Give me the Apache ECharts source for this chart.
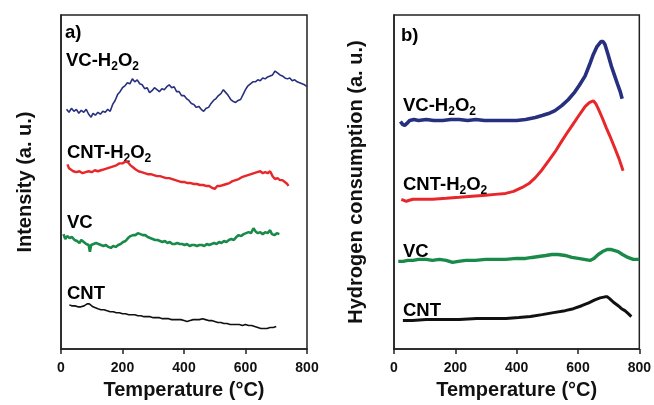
<!DOCTYPE html>
<html>
<head>
<meta charset="utf-8">
<script src="https://cdn.jsdelivr.net/npm/echarts@6/dist/echarts.min.js"></script>
<style>
  html, body { margin: 0; padding: 0; background: #fff; }
  #main { width: 654px; height: 405px; }
</style>
</head>
<body>
<div id="main"></div>
<script>
// x ticks shared by both panels
var tempTicks = [0, 200, 400, 600, 800];

// panel a) - intensity traces, [temperature, intensity a.u.]
var aVcH2o2 = [[18,244],[26,241],[34,245],[42,242],[50,244],[58,240],[66,243],[74,241],[82,244],[90,239],[98,236],[104,240],[112,238],[120,241],[128,239],[136,242],[144,241],[152,244],[160,242],[168,249],[176,253],[184,259],[192,262],[200,266],[208,268],[216,271],[224,270],[232,275],[240,272],[248,274],[256,270],[264,269],[272,265],[280,266],[288,261],[296,263],[304,266],[312,264],[320,262],[328,265],[336,264],[344,267],[352,269],[360,266],[368,267],[376,262],[384,262],[392,258],[400,258],[408,255],[416,253],[424,250],[432,249],[440,246],[448,247],[456,244],[464,242],[472,245],[480,246],[488,250],[496,253],[504,255],[512,258],[520,260],[528,264],[536,261],[544,258],[552,254],[560,252],[568,251],[576,253],[584,254],[592,259],[600,264],[608,268],[616,270],[624,272],[632,272],[640,274],[648,273],[656,276],[664,275],[672,277],[680,278],[688,279],[696,283],[704,281],[712,279],[720,278],[728,276],[736,275],[744,276],[752,273],[760,274],[768,272],[776,271],[784,270],[792,269],[800,267]];
var aCntH2o2 = [[21,188],[26,184],[32,182],[40,181],[50,180],[60,181],[70,179],[80,180],[90,181],[100,180],[110,182],[120,181],[130,182],[140,183],[150,184],[160,185],[170,186],[180,187],[190,189],[200,189],[210,191],[218,190],[226,187],[234,185],[242,183],[252,181],[262,180],[272,179],[282,178],[292,178],[302,177],[312,176],[322,176],[332,175],[342,174],[352,174],[362,173],[372,172],[382,171],[392,170],[402,170],[412,169],[422,169],[432,168],[442,168],[452,167],[462,167],[472,166],[482,166],[492,164],[500,163],[508,166],[518,166],[528,167],[538,168],[548,169],[558,171],[568,172],[578,173],[588,175],[598,176],[608,177],[618,178],[628,179],[638,180],[648,181],[656,179],[664,180],[672,179],[680,181],[688,176],[696,173],[704,174],[712,172],[720,172],[728,170],[736,168],[740,166]];
var aVc = [[8,117],[14,112],[20,115],[28,113],[36,114],[44,111],[52,110],[60,108],[66,111],[74,109],[82,107],[90,106],[94,99],[98,106],[106,107],[114,108],[122,107],[130,106],[138,105],[146,106],[154,104],[162,103],[170,105],[178,104],[186,106],[194,107],[202,109],[210,110],[218,113],[226,115],[234,116],[242,116],[250,118],[258,117],[266,116],[274,116],[282,114],[290,113],[298,112],[306,111],[314,111],[322,110],[330,109],[338,110],[346,108],[354,109],[362,107],[370,107],[378,108],[386,107],[394,107],[402,106],[410,107],[418,105],[426,106],[434,106],[442,105],[450,106],[458,106],[466,105],[474,107],[482,106],[490,107],[498,108],[506,107],[514,109],[522,108],[530,110],[538,109],[546,111],[554,112],[562,111],[570,114],[578,116],[586,115],[594,117],[602,118],[610,119],[618,118],[626,123],[632,120],[640,118],[648,119],[656,117],[664,119],[672,118],[680,121],[686,117],[694,116],[702,118],[710,117]];
var aCnt = [[27,45],[35,44],[45,44],[55,43],[65,43],[75,44],[85,46],[92,46],[98,45],[104,43],[110,41],[120,41],[130,40],[140,40],[150,39],[160,38],[170,38],[180,37],[190,37],[200,36],[210,36],[220,35],[230,35],[240,35],[250,34],[260,34],[270,33],[280,33],[290,33],[300,32],[310,32],[320,32],[330,31],[340,31],[350,31],[360,30],[370,30],[380,30],[390,30],[400,29],[410,28],[420,29],[430,30],[440,30],[450,30],[460,31],[470,30],[480,29],[490,29],[500,28],[510,27],[520,27],[530,26],[540,26],[550,25],[560,25],[570,25],[580,25],[590,24],[600,25],[610,24],[620,24],[630,23],[640,22],[650,21],[660,21],[670,21],[680,22],[690,22],[700,23]];

// panel b) - H2 consumption traces, [temperature, H2 consumption a.u.]
var bVcH2o2 = [[21,231],[28,228],[35,227],[42,229],[51,232],[65,233],[80,232],[105,233],[130,232],[159,232],[185,233],[213,233],[240,232],[267,233],[295,232],[321,232],[350,232],[375,232],[400,232],[429,233],[445,234],[461,235],[483,237],[504,239],[525,242],[547,247],[568,253],[590,261],[605,268],[623,277],[637,288],[650,299],[662,307],[675,312],[682,312],[688,309],[698,299],[709,287],[720,277],[731,267],[738,261],[744,254]];
var bCntH2o2 = [[24,152],[32,151],[40,150],[50,151],[62,152],[90,152],[126,152],[170,153],[213,154],[255,155],[299,156],[330,157],[364,158],[390,160],[418,164],[440,168],[461,174],[483,182],[504,191],[525,200],[547,211],[568,221],[590,231],[605,238],[623,246],[637,250],[650,252],[658,249],[666,244],[680,234],[693,224],[707,214],[720,204],[734,193],[747,181]];
var bVc = [[14,89],[30,89],[45,90],[62,90],[80,91],[105,91],[125,90],[148,91],[170,90],[191,88],[210,89],[234,90],[265,90],[299,91],[330,91],[364,91],[400,92],[429,92],[450,93],[472,94],[495,95],[515,96],[535,96],[558,95],[580,93],[601,92],[620,91],[639,90],[652,92],[666,96],[680,99],[695,101],[709,101],[720,100],[731,99],[745,96],[763,93],[780,91],[800,91]];
var bCnt = [[29,29],[60,29],[105,30],[160,30],[213,30],[270,31],[321,31],[365,31],[407,32],[445,33],[483,35],[520,37],[558,39],[585,41],[612,44],[635,47],[655,50],[672,52],[688,53],[696,53],[704,51],[718,47],[731,44],[742,41],[753,39],[764,36],[774,33]];

var FONT = 'Liberation Sans, Arial, sans-serif';
var NAVY = '#27307f', RED = '#e8272b', GREEN = '#1a8a4a', BLACK = '#111';

var myChart = echarts.init(document.getElementById('main'));

function xAx(idx) {
    return {
        type: 'value', gridIndex: idx, min: 0, max: 800, interval: 200,
        name: 'Temperature (°C)', nameLocation: 'middle', nameGap: 30,
        nameTextStyle: { fontFamily: FONT, fontSize: 20, fontWeight: 'bold', color: '#111' },
        axisLine: { show: true, lineStyle: { color: '#222', width: 1.5 } },
        axisTick: { show: true, length: 5, lineStyle: { color: '#222', width: 1.5 } },
        splitLine: { show: false },
        axisLabel: {
            margin: 12, fontFamily: FONT, fontSize: 14, fontWeight: 'bold', color: '#111',
            formatter: function (v) { return tempTicks.indexOf(v) >= 0 ? String(v) : ''; }
        }
    };
}
function yAx(idx, name, max, gap) {
    return {
        type: 'value', gridIndex: idx, min: 0, max: max,
        name: name, nameLocation: 'middle', nameGap: gap,
        nameTextStyle: { fontFamily: FONT, fontSize: 20, fontWeight: 'bold', color: '#111' },
        axisLine: { show: true, lineStyle: { color: '#222', width: 1.5 } },
        axisTick: { show: false }, axisLabel: { show: false }, splitLine: { show: false }
    };
}
function line(data, color, width, idx) {
    return {
        type: 'line', data: data, xAxisIndex: idx, yAxisIndex: idx,
        showSymbol: false, symbol: 'none', silent: true,
        lineStyle: { color: color, width: width }
    };
}

var rich = {
    m: { fontFamily: FONT, fontSize: 18.5, fontWeight: 'bold', color: '#111', lineHeight: 19, verticalAlign: 'top' },
    s: { fontFamily: FONT, fontSize: 12, fontWeight: 'bold', color: '#111', lineHeight: 12, verticalAlign: 'top', padding: [10, 0, 0, 0] }
};
function lbl(x, y, txt) {
    return { type: 'text', left: x, top: y, style: { text: txt, rich: rich } };
}

var option = {
    animation: false,
    backgroundColor: '#fff',
    grid: [
        { left: 61, top: 15, width: 246, height: 340, show: true, borderColor: '#222', borderWidth: 1.5 },
        { left: 394, top: 15, width: 247, height: 339, show: true, borderColor: '#222', borderWidth: 1.5 }
    ],
    xAxis: [xAx(0), xAx(1)],
    yAxis: [yAx(0, 'Intensity (a. u.)', 340, 26), yAx(1, 'Hydrogen consumption (a. u.)', 339, 28)],
    series: [
        line(aVcH2o2, NAVY, 1.6, 0),
        line(aCntH2o2, RED, 2.4, 0),
        line(aVc, GREEN, 2.6, 0),
        line(aCnt, BLACK, 1.6, 0),
        line(bVcH2o2, NAVY, 3.6, 1),
        line(bCntH2o2, RED, 3, 1),
        line(bVc, GREEN, 3.4, 1),
        line(bCnt, BLACK, 3, 1)
    ],
    graphic: [
        lbl(65, 23, '{m|a)}'),
        lbl(66, 51, '{m|VC-H}{s|2}{m|O}{s|2}'),
        lbl(67, 143, '{m|CNT-H}{s|2}{m|O}{s|2}'),
        lbl(67, 213, '{m|VC}'),
        lbl(67, 284, '{m|CNT}'),
        lbl(401, 26, '{m|b)}'),
        lbl(403, 96, '{m|VC-H}{s|2}{m|O}{s|2}'),
        lbl(403, 175, '{m|CNT-H}{s|2}{m|O}{s|2}'),
        lbl(403, 242, '{m|VC}'),
        lbl(403, 301, '{m|CNT}')
    ]
};

myChart.setOption(option);
</script>
</body>
</html>
